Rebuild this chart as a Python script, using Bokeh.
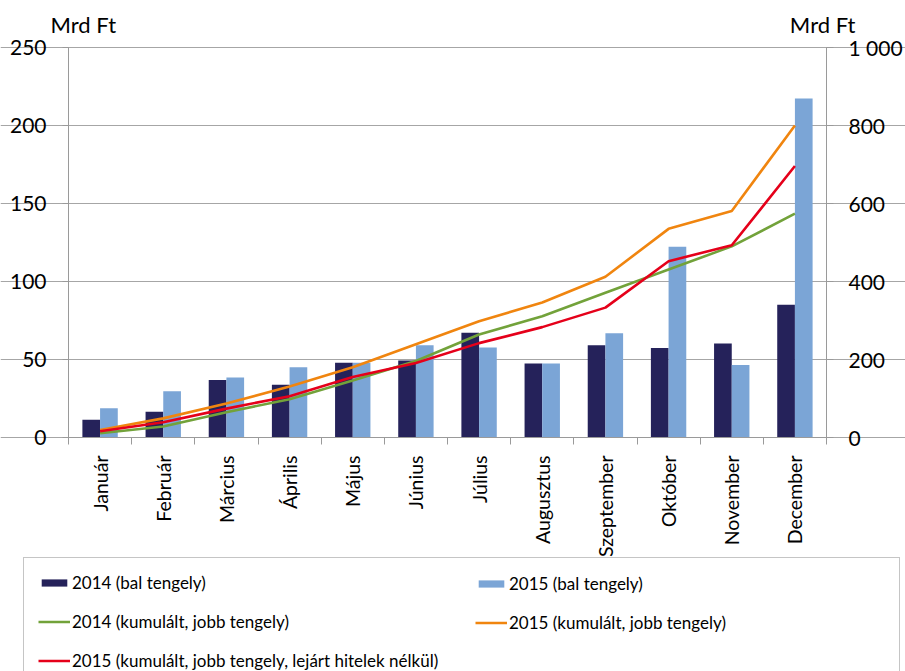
import math
from bokeh.plotting import figure
from bokeh.models import Range1d, LinearAxis, FixedTicker, Legend, LegendItem, Label
from bokeh.embed import file_html
from bokeh.resources import INLINE

# ---------------- data ----------------
months = ["Január", "Február", "Március", "Április", "Május", "Június",
          "Július", "Augusztus", "Szeptember", "Október", "November", "December"]
bars_2014 = [11.3, 16.5, 36.8, 33.8, 47.9, 49.4, 67.2, 47.5, 59.2, 57.3, 60.3, 85.1]
bars_2015 = [18.8, 29.7, 38.5, 45.1, 47.9, 59.2, 57.7, 47.5, 66.9, 122.3, 46.4, 217.3]
cum_2014 = [11, 28, 65, 98, 146, 196, 264, 311, 371, 431, 490, 574]
cum_2015 = [19, 49, 87, 131, 180, 239, 298, 346, 412, 535, 581, 800]
cum_2015_excl = [16, 39, 74, 106, 155, 191, 242, 283, 333, 452, 493, 696]
left_ticks = [0, 50, 100, 150, 200, 250]
right_ticks = [0, 200, 400, 600, 800, 1000]
right_tick_labels = {1000: "1 000"}
unit_label = "Mrd Ft"
legend_labels = ["2014 (bal tengely)", "2015 (bal tengely)",
                 "2014 (kumulált, jobb tengely)", "2015 (kumulált, jobb tengely)",
                 "2015 (kumulált, jobb tengely, lejárt hitelek nélkül)"]

# ---------------- styles / layout ----------------
C_DARK = "#25225A"
C_LIGHT = "#7BA5D6"
C_GREEN = "#72A23A"
C_ORANGE = "#F0850F"
C_RED = "#E5001A"
C_GRID = "#A6A6A6"
C_AXIS = "#9A9A9A"
FONT = "Lato"
W, H = 905, 671
# pixel box of the value area inside the canvas
BOX_L, BOX_R, BOX_T, BOX_B = 68, 826, 47, 437
LEFT_MAX, RIGHT_MAX = 250, 1000
PAD, GW, GH, LH, SP, ST = 14, 32, 9, 21, 18, 2
LEG_TOP = 559
LEG_LEFT, LEG_WIDTH, COL2_GLYPH_X = 23, 875, 475

n = len(months)
centers = [i + 0.5 for i in range(n)]
bar_w = 0.28
x_2014 = [c - bar_w / 2 for c in centers]
x_2015 = [c + bar_w / 2 for c in centers]

# ranges so that the value area lands on the pixel box, with the frame = whole canvas
px_x = (BOX_R - BOX_L) / n
px_y = (BOX_B - BOX_T) / LEFT_MAX
px_r = (BOX_B - BOX_T) / RIGHT_MAX
x_range = Range1d(-BOX_L / px_x, n + (W - BOX_R) / px_x)
y_range = Range1d(-(H - BOX_B) / px_y, LEFT_MAX + BOX_T / px_y)
r_range = Range1d(-(H - BOX_B) / px_r, RIGHT_MAX + BOX_T / px_r)

p = figure(width=W, height=H, output_backend="svg", toolbar_location=None, title=None,
           x_range=x_range, y_range=y_range, min_border=0)
p.extra_y_ranges = {"right": r_range}
p.outline_line_color = None

r_b14 = p.vbar(x=x_2014, top=bars_2014, width=bar_w, fill_color=C_DARK, line_color=None)
r_b15 = p.vbar(x=x_2015, top=bars_2015, width=bar_w, fill_color=C_LIGHT, line_color=None)
r_l14 = p.line(centers, cum_2014, line_color=C_GREEN, line_width=2.6, y_range_name="right")
r_l15 = p.line(centers, cum_2015, line_color=C_ORANGE, line_width=2.6, y_range_name="right")
r_lex = p.line(centers, cum_2015_excl, line_color=C_RED, line_width=2.6, y_range_name="right")

p.xgrid.visible = False
p.ygrid.ticker = FixedTicker(ticks=left_ticks)
p.ygrid.bounds = (0, n)
p.ygrid.grid_line_color = C_GRID
p.ygrid.grid_line_width = 1

# bottom axis: month names, ticks between categories
xa = p.xaxis[0]
xa.fixed_location = 0
xa.bounds = (0, n)
xa.ticker = FixedTicker(ticks=centers, minor_ticks=list(range(n + 1)))
xa.major_label_overrides = {c: m for c, m in zip(centers, months)}
xa.major_label_orientation = math.pi / 2
xa.major_tick_out = 0
xa.major_tick_in = 0
xa.minor_tick_out = 7
xa.minor_tick_in = 0
xa.minor_tick_line_color = C_AXIS
xa.axis_line_color = C_AXIS
xa.major_label_standoff = 11
xa.major_label_text_font = FONT
xa.major_label_text_font_size = "19.5px"
xa.major_label_text_color = "black"

# left axis
ya = p.yaxis[0]
ya.fixed_location = 0
ya.bounds = (0, LEFT_MAX)
ya.ticker = FixedTicker(ticks=left_ticks)
ya.axis_line_color = C_AXIS
ya.major_tick_line_color = C_AXIS
ya.major_tick_out = 6
ya.major_tick_in = 0
ya.minor_tick_line_color = None
ya.major_label_standoff = 16
ya.major_label_text_font = FONT
ya.major_label_text_font_size = "21px"
ya.major_label_text_color = "black"

# right axis
ra = LinearAxis(y_range_name="right", ticker=FixedTicker(ticks=right_ticks),
                major_label_overrides=right_tick_labels,
                fixed_location=n, bounds=(0, RIGHT_MAX))
ra.axis_line_color = C_AXIS
ra.major_tick_line_color = C_AXIS
ra.major_tick_out = 7
ra.major_tick_in = 0
ra.minor_tick_line_color = None
ra.major_label_standoff = 15
ra.major_label_text_font = FONT
ra.major_label_text_font_size = "21px"
ra.major_label_text_color = "black"
p.add_layout(ra, "right")

# unit captions
p.add_layout(Label(x=50, y=H - 24, x_units="screen", y_units="screen", text=unit_label,
                   text_font=FONT, text_font_size="22px", text_baseline="alphabetic",
                   text_align="left", text_color="black"))
p.add_layout(Label(x=855, y=H - 24, x_units="screen", y_units="screen", text=unit_label,
                   text_font=FONT, text_font_size="22px", text_baseline="alphabetic",
                   text_align="right", text_color="black"))

# legend (two overlaid legends form the two columns; the first carries the box)
common = dict(glyph_width=GW, glyph_height=GH, label_height=LH, label_standoff=ST,
              spacing=SP, padding=PAD, margin=0,
              label_text_font=FONT, label_text_font_size="17px", label_text_color="black")
h1 = 2 * PAD + 3 * LH + 2 * SP
h2 = 2 * LH + SP  # no border -> no padding
leg1 = Legend(items=[LegendItem(label=legend_labels[0], renderers=[r_b14]),
                     LegendItem(label=legend_labels[2], renderers=[r_l14]),
                     LegendItem(label=legend_labels[4], renderers=[r_lex])],
              location=(LEG_LEFT, H - LEG_TOP - h1),
              label_width=LEG_WIDTH - 2 * PAD - GW - ST,
              border_line_color="#8C8C8C", border_line_width=1,
              background_fill_color="white", background_fill_alpha=1.0, **common)
leg2 = Legend(items=[LegendItem(label=legend_labels[1], renderers=[r_b15]),
                     LegendItem(label=legend_labels[3], renderers=[r_l15])],
              location=(COL2_GLYPH_X, H - (LEG_TOP + PAD) - h2),
              border_line_color=None, background_fill_alpha=0.0, **common)
p.add_layout(leg1)
p.add_layout(leg2)

open("out.html", "w").write(file_html(p, INLINE))
